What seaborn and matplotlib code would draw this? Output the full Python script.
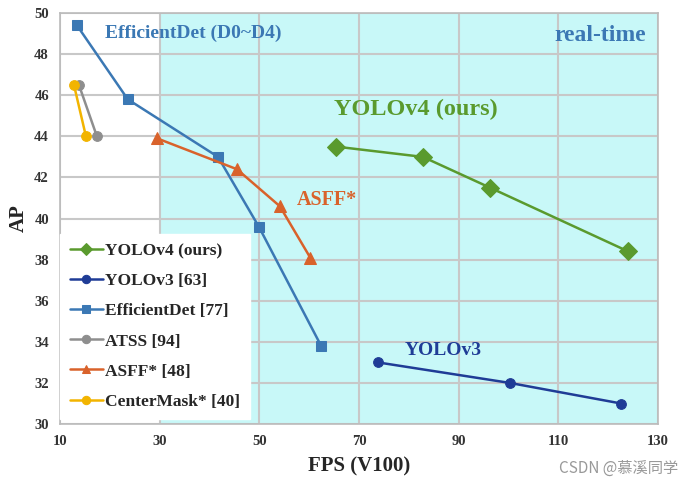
import pandas as pd
import seaborn as sns
import matplotlib.pyplot as plt

# values
yolov4_fps = [65.4, 82.8, 96.3, 124.0]
yolov4_ap = [43.5, 43.0, 41.5, 38.4]
yolov3_fps = [73.8, 100.3, 122.6]
yolov3_ap = [33.0, 32.0, 31.0]
effdet_fps = [13.4, 23.6, 41.7, 49.9, 62.4]
effdet_ap = [49.4, 45.8, 43.0, 39.6, 33.8]
atss_fps = [13.8, 17.4]
atss_ap = [46.5, 44.0]
asff_fps = [29.5, 45.5, 54.1, 60.2]
asff_ap = [43.9, 42.4, 40.6, 38.1]
cmask_fps = [12.8, 15.2]
cmask_ap = [46.5, 44.0]

series = [
    ("YOLOv4 (ours)", yolov4_fps, yolov4_ap, "#5A9A2E", "D", 9),
    ("YOLOv3 [63]", yolov3_fps, yolov3_ap, "#1F3C96", "o", 7),
    ("EfficientDet [77]", effdet_fps, effdet_ap, "#3B78B4", "s", 6.5),
    ("ATSS [94]", atss_fps, atss_ap, "#8E8E8E", "o", 7),
    ("ASFF* [48]", asff_fps, asff_ap, "#D9622B", "^", 9),
    ("CenterMask* [40]", cmask_fps, cmask_ap, "#F2B400", "o", 7),
]

sns.set_style("white")
plt.rcParams["font.family"] = ["Liberation Serif", "DejaVu Serif"]

fig = plt.figure(figsize=(6.82, 4.83), dpi=100)
ax = fig.add_axes([0.088, 0.122, 0.877, 0.851])

ax.axvspan(30, 130, color="#C8F8F8", zorder=0, lw=0)

for name, xs, ys, col, mk, ms in series:
    df = pd.DataFrame({"fps": xs, "ap": ys})
    sns.lineplot(data=df, x="fps", y="ap", ax=ax, color=col, marker=mk,
                 markersize=ms, markeredgecolor=col, linewidth=1.8,
                 label=name, sort=False, zorder=3)

ax.set_xlim(10, 130)
ax.set_ylim(30, 50)
ax.set_xticks(range(10, 131, 20))
ax.set_yticks(range(30, 51, 2))
ax.grid(True, color="#C8C8C8", linewidth=1.5, zorder=1)
ax.set_axisbelow(True)
for s in ax.spines.values():
    s.set_color("#BBBBBB")
    s.set_linewidth(1.2)
ax.tick_params(labelsize=10.5, length=0, pad=8)
for t in ax.get_xticklabels() + ax.get_yticklabels():
    t.set_fontweight("bold")
    t.set_color("#333333")
ax.set_xlabel("FPS (V100)", fontsize=15, fontweight="bold", labelpad=6)
ax.set_ylabel("AP", fontsize=15, fontweight="bold", labelpad=4)

ax.text(19, 49.0, "EfficientDet (D0~D4)", color="#3B78B4", fontsize=14,
        fontweight="bold", va="center")
ax.text(127.5, 48.9, "real-time", color="#3B78B4", fontsize=17,
        fontweight="bold", ha="right", va="center")
ax.text(65, 45.3, "YOLOv4 (ours)", color="#5A9A2E", fontsize=17.5,
        fontweight="bold", va="center")
ax.text(57.5, 40.9, "ASFF*", color="#D9622B", fontsize=14.5,
        fontweight="bold", va="center")
ax.text(79.2, 33.6, "YOLOv3", color="#1F3C96", fontsize=14,
        fontweight="bold", va="center")

leg = ax.legend(loc="lower left", bbox_to_anchor=(0.0, 0.012), frameon=True,
                fancybox=False, edgecolor="white", framealpha=1,
                handlelength=1.9, handletextpad=0.15, labelspacing=0.8,
                borderpad=0.55, borderaxespad=0.0,
                prop={"weight": "bold", "size": 12.5})
leg.set_zorder(5)
for h in leg.legend_handles:
    h.set_markersize(6)

fig.text(0.995, 0.03, "CSDN @慕溪同学", ha="right", va="center",
         fontsize=11, color="#999999",
         family=["Noto Sans CJK SC", "DejaVu Sans"])

fig.savefig("out.png", dpi=100)
